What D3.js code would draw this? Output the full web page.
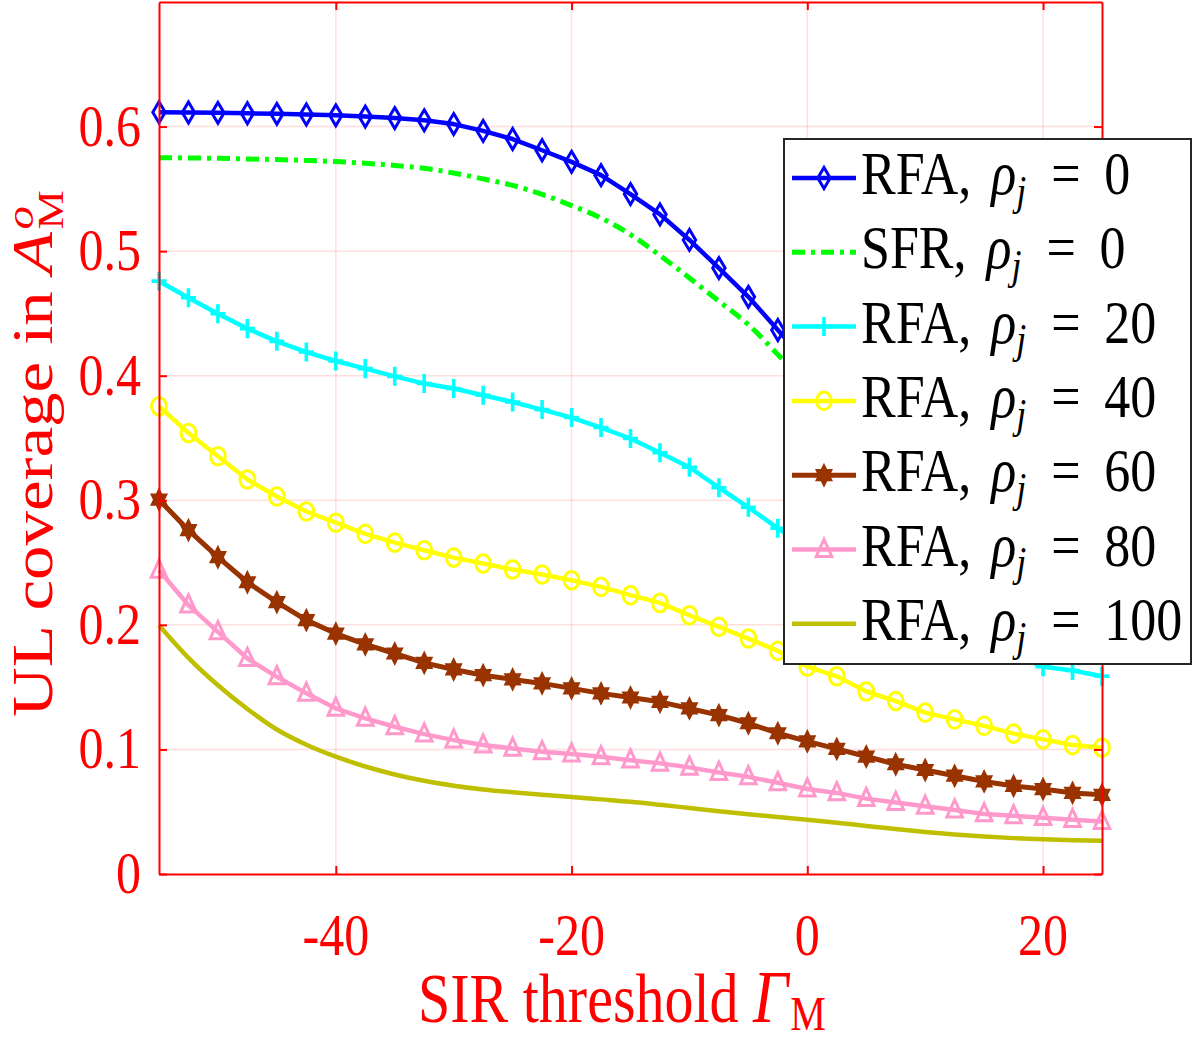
<!DOCTYPE html>
<html>
<head>
<meta charset="utf-8">
<script src="https://cdn.jsdelivr.net/npm/d3@7"></script>
<style>
  body { margin: 0; background: #fff; }
  svg { display: block; }
  text { font-family: "Liberation Serif", "Times New Roman", serif; }
</style>
</head>
<body>
<svg id="chart" width="1203" height="1041"></svg>
<script>
"use strict";

// ---- data ----
var sirThreshold = [-55, -52.5, -50, -47.5, -45, -42.5, -40, -37.5, -35, -32.5, -30, -27.5, -25, -22.5, -20,
                    -17.5, -15, -12.5, -10, -7.5, -5, -2.5, 0, 2.5, 5, 7.5, 10, 12.5, 15, 17.5, 20, 22.5, 25];

var rfaRho0   = [0.6115, 0.6113, 0.6110, 0.6107, 0.6102, 0.6097, 0.6090, 0.6080, 0.6068, 0.6050, 0.6020, 0.5965, 0.5900,
                 0.5810, 0.5717, 0.5610, 0.5458, 0.5295, 0.5090, 0.4864, 0.4633, 0.4367, 0.4100, 0.3830, 0.3550, 0.3280,
                 0.3020, 0.2780, 0.2560, 0.2360, 0.2180, 0.2030, 0.1900];
var sfrRho0   = [0.5750, 0.5748, 0.5745, 0.5740, 0.5735, 0.5728, 0.5719, 0.5705, 0.5688, 0.5665, 0.5627, 0.5580, 0.5528,
                 0.5455, 0.5366, 0.5266, 0.5133, 0.4965, 0.4785, 0.4598, 0.4410, 0.4170, 0.3920, 0.3680, 0.3420, 0.3150,
                 0.2880, 0.2620, 0.2380, 0.2170, 0.2000, 0.1880, 0.1800];
var rfaRho20  = [0.4759, 0.4626, 0.4498, 0.4378, 0.4276, 0.4190, 0.4118, 0.4057, 0.3995, 0.3937, 0.3897, 0.3843, 0.3789,
                 0.3728, 0.3664, 0.3584, 0.3496, 0.3381, 0.3265, 0.3101, 0.2944, 0.2775, 0.2620, 0.2470, 0.2330, 0.2200,
                 0.2080, 0.1970, 0.1870, 0.1760, 0.1664, 0.1633, 0.1587];
var rfaRho40  = [0.3754, 0.3540, 0.3353, 0.3167, 0.3030, 0.2910, 0.2820, 0.2730, 0.2660, 0.2599, 0.2540, 0.2492, 0.2444,
                 0.2404, 0.2358, 0.2305, 0.2238, 0.2176, 0.2077, 0.1984, 0.1890, 0.1791, 0.1664, 0.1587, 0.1465, 0.1388,
                 0.1295, 0.1241, 0.1189, 0.1127, 0.1081, 0.1035, 0.1013];
var rfaRho60  = [0.3005, 0.2760, 0.2543, 0.2342, 0.2182, 0.2038, 0.1930, 0.1843, 0.1770, 0.1695, 0.1642, 0.1596, 0.1562,
                 0.1530, 0.1490, 0.1450, 0.1417, 0.1382, 0.1329, 0.1275, 0.1210, 0.1130, 0.1065, 0.1004, 0.0943, 0.0881,
                 0.0835, 0.0789, 0.0743, 0.0707, 0.0682, 0.0651, 0.0636];
var rfaRho80  = [0.2438, 0.2158, 0.1944, 0.1730, 0.1583, 0.1450, 0.1329, 0.1249, 0.1182, 0.1123, 0.1075, 0.1035, 0.1008,
                 0.0981, 0.0963, 0.0941, 0.0914, 0.0888, 0.0856, 0.0815, 0.0780, 0.0732, 0.0682, 0.0651, 0.0605, 0.0574,
                 0.0544, 0.0513, 0.0482, 0.0467, 0.0452, 0.0436, 0.0421];
var rfaRho100 = [0.1997, 0.1735, 0.1515, 0.1325, 0.1160, 0.1038, 0.0942, 0.0863, 0.0799, 0.0748, 0.0709, 0.0679, 0.0656,
                 0.0636, 0.0618, 0.0599, 0.0580, 0.0556, 0.0530, 0.0504, 0.0480, 0.0457, 0.0436, 0.0411, 0.0386, 0.0361,
                 0.0338, 0.0318, 0.0301, 0.0288, 0.0278, 0.0271, 0.0267];

var schemeNames = ["RFA", "SFR", "RFA", "RFA", "RFA", "RFA", "RFA"];
var rhoLabels   = ["0", "0", "20", "40", "60", "80", "100"];

var xTickValues = [-40, -20, 0, 20];
var yTickValues = [0, 0.1, 0.2, 0.3, 0.4, 0.5, 0.6];

// ---- look ----
var red = "#ff0000";
var stretch = 1.19;   // the reference is stretched vertically

var styles = [
    { color: "#0000ff", marker: "diamond", width: 4.5 },
    { color: "#00ff00", marker: null, width: 5, dash: "13,6,4,6", smooth: true },
    { color: "#00ffff", marker: "plus", width: 4.5 },
    { color: "#ffff00", marker: "circle", width: 4.5 },
    { color: "#993300", marker: "hexagram", width: 5 },
    { color: "#ff99cc", marker: "triangle", width: 4.5 },
    { color: "#bfbf00", marker: null, width: 4.5, smooth: true }
];

var seriesValues = [rfaRho0, sfrRho0, rfaRho20, rfaRho40, rfaRho60, rfaRho80, rfaRho100];

var series = seriesValues.map(function( vals, i ) {
    return {
        name: schemeNames[i],
        rho: rhoLabels[i],
        points: sirThreshold.map(function( s, k ) { return { x: s, y: vals[k] }; }),
        style: styles[i]
    };
});

var svg = d3.select('#chart');

var x = d3.scaleLinear().domain([-55, 25]).range([159, 1102]);
var y = d3.scaleLinear().domain([0, 0.7]).range([874, 2]);

// ---- grid ----
var grid = svg.append('g').classed('grid', true);

grid.selectAll('.vgrid')
    .data(xTickValues)
    .enter().append('line')
        .attr('x1', function( d ) { return x(d); })
        .attr('x2', function( d ) { return x(d); })
        .attr('y1', y(0))
        .attr('y2', y(0.7))
        .attr('stroke', red)
        .attr('stroke-opacity', 0.13)
        .attr('stroke-width', 1.5);

grid.selectAll('.hgrid')
    .data(yTickValues.filter(function( d ) { return d > 0; }))
    .enter().append('line')
        .attr('x1', x(-55))
        .attr('x2', x(25))
        .attr('y1', function( d ) { return y(d); })
        .attr('y2', function( d ) { return y(d); })
        .attr('stroke', red)
        .attr('stroke-opacity', 0.13)
        .attr('stroke-width', 1.5);

// ---- marker shapes ----
function hexagramPath( R ) {
    var r = R / Math.sqrt(3), p = d3.path();
    for ( var k = 0; k < 12; k++ ) {
        var a = -Math.PI / 2 + k * Math.PI / 6;
        var rad = (k % 2 === 0) ? R : r;
        if ( k === 0 ) p.moveTo(rad * Math.cos(a), rad * Math.sin(a));
        else p.lineTo(rad * Math.cos(a), rad * Math.sin(a));
    }
    p.closePath();
    return p.toString();
}

function circlePath( r ) {
    var p = d3.path();
    p.arc(0, 0, r, 0, 2 * Math.PI);
    p.closePath();
    return p.toString();
}

var markerShapes = {
    diamond:  { d: "M0,-8.8L6.2,0L0,8.8L-6.2,0Z", fill: false, sw: 3 },
    plus:     { d: "M-7.5,0H7.5M0,-8V8", fill: false, sw: 3.6 },
    circle:   { d: circlePath(7.4), fill: false, sw: 3 },
    hexagram: { d: hexagramPath(9), fill: true, sw: 1.5 },
    triangle: { d: "M0,-8.6L7.8,5.8L-7.8,5.8Z", fill: false, sw: 3 }
};

function drawMarkers( parent, pts, style ) {
    var shape = markerShapes[style.marker];
    parent.selectAll('.marker')
        .data(pts)
        .enter().append('path')
            .classed('marker', true)
            .attr('d', shape.d)
            .attr('transform', function( d ) { return 'translate(' + d[0] + ',' + d[1] + ') scale(1,' + stretch + ')'; })
            .attr('fill', shape.fill ? style.color : 'none')
            .attr('stroke', style.color)
            .attr('stroke-width', shape.sw)
            .attr('vector-effect', 'non-scaling-stroke')
            .attr('stroke-linejoin', 'miter');
}

// ---- series ----
var plot = svg.append('g').classed('series', true);

series.forEach(function( s ) {
    var g = plot.append('g');
    var line = d3.line()
        .x(function( d ) { return x(d.x); })
        .y(function( d ) { return y(d.y); })
        .curve(s.style.smooth ? d3.curveMonotoneX : d3.curveLinear);

    g.append('path')
        .datum(s.points)
        .attr('d', line)
        .attr('fill', 'none')
        .attr('stroke', s.style.color)
        .attr('stroke-width', s.style.width)
        .attr('stroke-dasharray', s.style.dash || null)
        .attr('stroke-linejoin', 'round');

    if ( s.style.marker ) {
        drawMarkers(g, s.points.map(function( d ) { return [x(d.x), y(d.y)]; }), s.style);
    }
});

// ---- axes (box with inward ticks) ----
function styleAxis( g ) {
    g.selectAll('path.domain').attr('stroke', red).attr('stroke-width', 2);
    g.selectAll('.tick line').attr('stroke', red).attr('stroke-width', 2);
}

svg.append('g').attr('transform', 'translate(0,' + y(0) + ')')
    .call(d3.axisBottom(x).tickValues(xTickValues).tickSizeInner(-8).tickSizeOuter(0).tickFormat(''))
    .call(styleAxis);
svg.append('g').attr('transform', 'translate(0,' + y(0.7) + ')')
    .call(d3.axisTop(x).tickValues(xTickValues).tickSizeInner(-8).tickSizeOuter(0).tickFormat(''))
    .call(styleAxis);
svg.append('g').attr('transform', 'translate(' + x(-55) + ',0)')
    .call(d3.axisLeft(y).tickValues(yTickValues).tickSizeInner(-8).tickSizeOuter(0).tickFormat(''))
    .call(styleAxis);
svg.append('g').attr('transform', 'translate(' + x(25) + ',0)')
    .call(d3.axisRight(y).tickValues(yTickValues).tickSizeInner(-8).tickSizeOuter(0).tickFormat(''))
    .call(styleAxis);

// ---- tick labels ----
svg.append('g').selectAll('g')
    .data(yTickValues)
    .enter().append('g')
        .attr('transform', function( d ) { return 'translate(141,' + (y(d) + 19) + ')'; })
        .append('text')
            .attr('transform', 'scale(1,' + stretch + ')')
            .attr('text-anchor', 'end')
            .attr('font-size', 50)
            .attr('fill', red)
            .text(function( d ) { return String(d); });

svg.append('g').selectAll('g')
    .data(xTickValues)
    .enter().append('g')
        .attr('transform', function( d ) { return 'translate(' + x(d) + ',955)'; })
        .append('text')
            .attr('transform', 'scale(1,' + stretch + ')')
            .attr('text-anchor', 'middle')
            .attr('font-size', 50)
            .attr('fill', red)
            .text(function( d ) { return String(d); });

// ---- axis titles ----
var xTitle = svg.append('g').attr('transform', 'translate(418,1022)')
    .append('text')
        .attr('transform', 'scale(1,' + stretch + ')')
        .attr('font-size', 58)
        .attr('fill', red);
xTitle.append('tspan').text('SIR threshold ');
xTitle.append('tspan').attr('font-style', 'italic').attr('font-size', 62).text('\u0393');
xTitle.append('tspan').attr('font-size', 40).attr('dx', 2).attr('dy', 7).text('M');

var yTitle = svg.append('g').attr('transform', 'translate(52,717) rotate(-90)')
    .append('text')
        .attr('transform', 'scale(1.23,1)')
        .attr('font-size', 56)
        .attr('fill', red);
yTitle.append('tspan').text('UL coverage in ');
yTitle.append('tspan').attr('font-style', 'italic').text('A');
yTitle.append('tspan').attr('font-style', 'italic').attr('font-size', 38).attr('dx', 2).attr('dy', -19).text('o');
yTitle.append('tspan').attr('font-size', 36).attr('dx', -19).attr('dy', 30).text('M');

// ---- legend ----
var legend = svg.append('g').classed('legend', true);

legend.append('rect')
    .attr('x', 784).attr('y', 139)
    .attr('width', 407).attr('height', 525)
    .attr('fill', '#fff')
    .attr('stroke', '#262626')
    .attr('stroke-width', 2);

series.forEach(function( s, i ) {
    var cy = 178 + i * 74.3;
    var row = legend.append('g');

    row.append('line')
        .attr('x1', 792).attr('x2', 856)
        .attr('y1', cy).attr('y2', cy)
        .attr('stroke', s.style.color)
        .attr('stroke-width', s.style.width)
        .attr('stroke-dasharray', s.style.dash || null);

    if ( s.style.marker ) drawMarkers(row, [[824, cy]], s.style);

    var t = row.append('g').attr('transform', 'translate(861,' + (cy + 16) + ')')
        .append('text')
            .attr('transform', 'scale(1,' + stretch + ')')
            .attr('font-size', 52)
            .attr('fill', '#000');

    var head = t.append('tspan').attr('x', 0).text(s.name + ',');
    var rx = head.node().getComputedTextLength() + 20;

    t.append('tspan').attr('x', rx).attr('font-style', 'italic').text('\u03c1');
    t.append('tspan').attr('x', rx + 25).attr('dy', 9).attr('font-style', 'italic').attr('font-size', 36).text('j');
    t.append('tspan').attr('x', rx + 60).attr('dy', -9).text('=');
    t.append('tspan').attr('x', rx + 113).text(s.rho);
});
</script>
</body>
</html>
